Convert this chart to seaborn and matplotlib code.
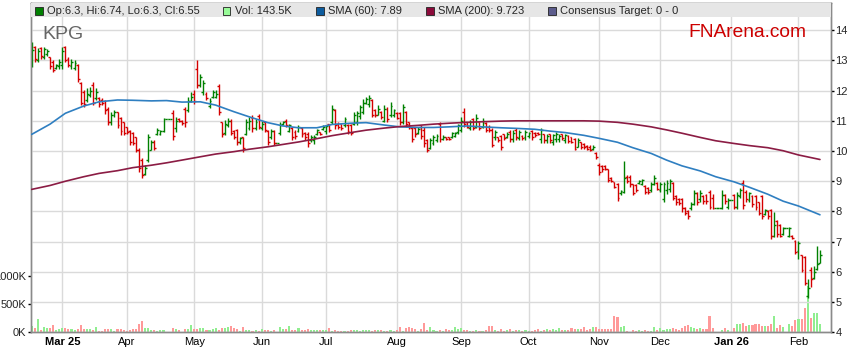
"""
KPG daily OHLC chart with volume and moving averages (FNArena style)
"""

import numpy as np
import pandas as pd
import matplotlib
matplotlib.use("Agg")
import matplotlib.pyplot as plt
from matplotlib.patches import Rectangle
import seaborn as sns


# Data

START_DATE = "2025-02-17"
TICKER = "KPG"

opens = [
    # Feb
    12.85, 13.45, 13.00, 13.40, 13.10, 13.20, 13.10, 12.95, 12.75, 12.80,
    # Mar
    12.85, 13.45, 13.05, 12.80, 12.75, 12.85, 12.25, 11.95, 11.70, 11.85, 12.20, 11.75, 11.75, 11.70, 11.65,
    11.40, 10.95, 11.20, 11.28, 11.10, 10.95,
    # Apr
    10.78, 10.65, 10.60, 10.45, 10.05, 9.70, 9.25, 9.70, 10.05, 10.30, 10.55, 10.58, 10.65, 11.05, 11.05,
    11.25, 10.75, 11.05, 11.00, 11.40, 11.35, 11.65,
    # May
    11.90, 12.70, 12.20, 11.95, 11.90, 11.50, 11.80, 11.80, 12.15, 10.95, 10.60, 10.85, 11.00, 10.65, 10.70,
    10.30, 10.45, 10.55, 10.75, 11.10, 10.75, 11.15,
    # Jun
    10.75, 10.95, 10.65, 10.45, 10.65, 10.25, 10.60, 10.88, 11.00, 10.65, 10.75, 10.62, 10.65, 10.75, 10.60,
    10.55, 10.35, 10.35, 10.55, 10.62, 10.72,
    # Jul
    10.65, 10.88, 10.95, 11.35, 10.90, 10.88, 10.85, 10.85, 10.85, 10.90, 10.95, 11.15, 11.30, 11.60, 11.55,
    11.70, 11.35, 11.20, 11.30, 11.00, 11.40, 11.20, 11.20,
    # Aug
    11.25, 11.25, 10.95, 11.30, 10.95, 10.75, 10.75, 10.60, 10.80, 10.70, 10.38, 10.10, 10.25, 10.35, 10.90,
    10.40, 10.47, 10.45, 10.45, 10.50, 10.62,
    # Sep
    10.70, 11.30, 10.95, 10.75, 11.05, 10.80, 10.95, 10.80, 10.92, 10.80, 10.70, 10.45, 10.45, 10.50, 10.55,
    10.45, 10.62, 10.40, 10.68, 10.42, 10.50, 10.45,
    # Oct
    10.50, 10.65, 10.60, 10.60, 10.40, 10.55, 10.35, 10.55, 10.30, 10.40, 10.40, 10.55, 10.35, 10.50, 10.45,
    10.40, 10.15, 10.30, 10.22, 10.18, 10.15, 10.08, 9.95,
    # Nov
    9.55, 9.50, 9.50, 9.40, 9.12, 8.97, 8.90, 8.62, 8.65, 9.15, 9.15, 8.90, 8.88, 8.94, 8.90,
    8.85, 8.78, 8.70, 8.90, 8.95,
    # Dec
    8.70, 8.40, 8.70, 8.75, 8.95, 8.50, 8.40, 8.40, 8.12, 8.00, 8.10, 8.25, 8.60, 8.40, 8.50,
    8.55, 8.65, 8.45, 8.10, 8.10, 8.10, 8.55, 8.15,
    # Jan
    8.38, 8.55, 8.15, 8.50, 8.95, 8.65, 8.38, 8.50, 8.50, 8.30, 8.50, 7.90, 8.00, 8.05, 7.20,
    7.70, 7.55, 7.25, 7.45, 7.20, 7.20, 7.02,
    # Feb
    6.68, 6.55, 6.50, 5.20, 6.05, 5.80, 6.10, 6.30,
]

highs = [
    13.60, 13.49, 13.41, 13.44, 13.44, 13.38, 13.11, 13.00, 12.89, 13.05,
    13.44, 13.49, 13.11, 13.05, 13.02, 12.89, 12.29, 12.01, 12.07, 12.12, 12.29, 12.07, 11.79, 11.74, 11.68,
    11.46, 11.30, 11.35, 11.30, 11.13, 10.97,
    10.80, 10.69, 10.64, 10.47, 10.09, 9.76, 9.54, 10.58, 10.36, 10.36, 10.75, 10.69, 11.08, 11.05, 11.05,
    11.35, 11.13, 11.08, 11.02, 11.46, 11.79, 11.96,
    12.01, 13.00, 12.56, 12.34, 11.96, 11.74, 12.01, 12.01, 12.23, 10.97, 11.02, 11.08, 11.07, 10.68, 10.74,
    10.46, 10.46, 11.07, 11.12, 11.18, 11.07, 11.23,
    11.01, 11.01, 10.68, 10.74, 10.68, 10.25, 10.96, 11.01, 11.07, 10.90, 10.79, 10.68, 10.85, 10.79, 10.63,
    10.63, 10.52, 10.52, 10.74, 10.63, 10.85,
    10.85, 10.90, 11.51, 11.40, 10.96, 10.90, 11.12, 10.90, 10.90, 11.29, 11.34, 11.51, 11.73, 11.78, 11.84,
    11.73, 11.40, 11.51, 11.34, 11.51, 11.45, 11.62, 11.40,
    11.29, 11.29, 11.56, 11.34, 10.96, 10.79, 10.79, 10.79, 10.85, 10.79, 10.41, 10.42, 10.53, 10.58, 10.97,
    10.53, 10.47, 10.47, 10.64, 10.64, 10.91,
    11.13, 11.41, 10.97, 11.02, 11.08, 11.24, 10.97, 11.08, 10.97, 10.86, 10.75, 10.69, 10.47, 10.53, 10.58,
    10.64, 10.69, 10.69, 10.75, 10.69, 10.53, 10.69,
    10.64, 10.69, 10.64, 10.64, 10.75, 10.58, 10.58, 10.58, 10.58, 10.64, 10.55, 10.58, 10.58, 10.53, 10.47,
    10.42, 10.42, 10.31, 10.25, 10.20, 10.20, 10.20, 9.97,
    9.59, 9.53, 9.53, 9.42, 9.15, 8.98, 8.93, 8.71, 9.67, 9.20, 9.20, 8.92, 8.92, 9.03, 9.09,
    8.87, 8.81, 8.98, 9.20, 8.98,
    8.98, 8.98, 9.03, 9.09, 8.98, 8.54, 8.43, 8.43, 8.15, 8.04, 8.32, 8.70, 8.65, 8.70, 8.54,
    8.59, 8.70, 8.59, 8.10, 8.10, 8.70, 8.59, 8.43,
    8.38, 8.59, 8.65, 8.76, 9.03, 8.70, 8.65, 8.54, 8.54, 8.32, 8.54, 8.09, 8.04, 8.09, 7.98,
    7.71, 7.60, 7.49, 7.45, 7.49, 7.21, 7.05,
    7.03, 6.57, 6.54, 5.78, 6.16, 6.20, 6.87, 6.74,
]

lows = [
    12.78, 12.95, 12.95, 13.05, 13.05, 13.16, 12.73, 12.62, 12.73, 12.73,
    12.73, 12.95, 12.78, 12.73, 12.67, 12.29, 11.52, 11.46, 11.63, 11.79, 11.52, 11.68, 11.46, 11.52, 11.24,
    10.86, 10.86, 11.13, 10.75, 10.53, 10.53,
    10.58, 10.20, 10.20, 9.98, 9.32, 9.10, 9.21, 9.65, 10.03, 10.03, 10.53, 10.53, 10.64, 11.05, 11.05,
    10.36, 10.64, 10.97, 10.86, 10.80, 11.30, 11.63,
    11.57, 12.07, 12.12, 11.85, 11.68, 11.41, 11.74, 11.74, 11.19, 10.47, 10.53, 10.80, 10.52, 10.41, 10.19,
    10.24, 9.97, 10.52, 10.68, 10.63, 10.68, 10.74,
    10.68, 10.63, 10.19, 10.41, 10.19, 10.25, 10.52, 10.85, 10.79, 10.63, 10.35, 10.41, 10.63, 10.46, 10.35,
    10.13, 10.30, 10.24, 10.52, 10.52, 10.68,
    10.57, 10.63, 10.90, 10.74, 10.74, 10.68, 10.79, 10.57, 10.52, 10.85, 10.85, 11.07, 11.23, 11.56, 11.45,
    11.12, 11.12, 11.18, 11.07, 10.96, 10.96, 11.12, 11.12,
    11.07, 10.85, 10.90, 10.79, 10.74, 10.30, 10.46, 10.57, 10.41, 10.13, 9.97, 10.08, 10.20, 10.31, 10.31,
    10.36, 10.36, 10.36, 10.42, 10.47, 10.58,
    10.64, 10.80, 10.75, 10.69, 10.69, 10.75, 10.69, 10.75, 10.64, 10.64, 10.14, 10.36, 10.31, 10.03, 10.36,
    10.42, 10.31, 10.31, 10.36, 10.36, 10.36, 10.36,
    10.42, 10.36, 10.47, 10.53, 10.25, 10.25, 10.25, 10.25, 10.20, 10.31, 10.31, 10.36, 10.25, 10.25, 10.25,
    10.03, 10.14, 10.08, 10.08, 10.03, 10.00, 10.03, 9.75,
    9.20, 9.31, 9.37, 8.98, 8.98, 8.76, 8.34, 8.54, 8.60, 8.93, 8.82, 8.54, 8.65, 8.92, 8.87,
    8.59, 8.59, 8.65, 8.87, 8.70,
    8.65, 8.32, 8.59, 8.65, 8.37, 8.21, 8.21, 7.98, 7.87, 7.76, 8.04, 8.21, 8.21, 8.32, 8.26,
    8.26, 8.09, 8.09, 8.10, 8.10, 8.09, 8.26, 8.09,
    8.38, 8.09, 8.09, 8.43, 8.09, 8.32, 8.32, 8.15, 8.04, 7.87, 7.76, 7.87, 7.76, 7.10, 7.16,
    7.16, 7.16, 7.21, 7.45, 7.16, 7.10, 6.60,
    6.43, 6.00, 5.56, 5.12, 5.50, 5.78, 6.05, 6.30,
]

closes = [
    13.35, 13.05, 13.30, 13.15, 13.38, 13.30, 12.80, 12.68, 12.85, 12.95,
    13.30, 13.00, 12.85, 12.95, 12.90, 12.40, 11.60, 11.55, 11.90, 12.00, 11.60, 11.95, 11.55, 11.60, 11.35,
    10.95, 11.20, 11.30, 10.85, 10.65, 10.60,
    10.62, 10.30, 10.25, 10.05, 9.45, 9.20, 9.45, 10.45, 10.30, 10.10, 10.70, 10.65, 11.05, 11.05, 11.05,
    10.50, 11.00, 11.00, 10.92, 10.95, 11.65, 11.80,
    11.65, 12.20, 12.45, 12.25, 11.75, 11.65, 11.95, 11.90, 11.30, 10.55, 10.90, 11.00, 10.60, 10.45, 10.30,
    10.42, 10.10, 10.95, 11.00, 10.75, 10.95, 10.80,
    10.90, 10.70, 10.30, 10.65, 10.25, 10.25, 10.85, 10.95, 10.85, 10.85, 10.45, 10.50, 10.80, 10.55, 10.45,
    10.25, 10.48, 10.45, 10.70, 10.55, 10.80,
    10.82, 10.70, 11.40, 10.85, 10.80, 10.75, 11.05, 10.65, 10.60, 11.20, 11.25, 11.45, 11.60, 11.72, 11.75,
    11.20, 11.18, 11.40, 11.12, 11.40, 11.05, 11.50, 11.35,
    11.10, 10.95, 11.45, 10.90, 10.80, 10.40, 10.55, 10.72, 10.50, 10.25, 10.05, 10.35, 10.45, 10.50, 10.40,
    10.48, 10.40, 10.40, 10.60, 10.60, 10.85,
    11.00, 10.88, 10.80, 10.95, 10.75, 11.10, 10.75, 11.00, 10.70, 10.68, 10.20, 10.62, 10.35, 10.15, 10.42,
    10.58, 10.40, 10.60, 10.45, 10.62, 10.42, 10.62,
    10.60, 10.45, 10.52, 10.55, 10.70, 10.35, 10.50, 10.35, 10.52, 10.55, 10.50, 10.42, 10.52, 10.32, 10.30,
    10.08, 10.35, 10.15, 10.12, 10.08, 10.05, 10.15, 9.80,
    9.30, 9.40, 9.40, 9.05, 9.02, 8.82, 8.45, 8.68, 9.10, 9.00, 8.90, 8.60, 8.70, 9.00, 9.05,
    8.65, 8.65, 8.92, 9.10, 8.75,
    8.92, 8.90, 8.95, 9.00, 8.45, 8.30, 8.28, 8.10, 7.95, 7.85, 8.25, 8.60, 8.30, 8.60, 8.35,
    8.35, 8.15, 8.10, 8.10, 8.10, 8.55, 8.35, 8.38,
    8.38, 8.15, 8.55, 8.70, 8.20, 8.40, 8.60, 8.25, 8.15, 7.95, 7.85, 8.05, 7.85, 7.20, 7.55,
    7.25, 7.20, 7.45, 7.45, 7.45, 7.12, 6.65,
    6.95, 6.05, 5.62, 5.45, 5.75, 6.00, 6.25, 6.55,
]

# daily volume, thousands of shares
volume_k = [
    112, 82, 230, 47, 94, 82, 82, 130, 35, 59,
    82, 82, 65, 59, 47, 65, 130, 59, 53, 59, 47, 94, 30, 24, 65, 65, 65, 30, 65, 65, 47,
    24, 47, 65, 59, 147, 206, 82, 82, 47, 47, 30, 47, 47, 0, 0, 82, 59, 47, 0, 59, 59,
    130, 59, 59, 82, 82, 47, 47, 59, 82, 47, 82, 82, 94, 112, 82, 59, 30, 94, 47, 47,
    30, 47, 30, 65, 47, 47, 30, 47, 0, 94, 65, 65, 112, 47, 47, 82, 45, 40, 50, 45, 35, 45,
    40, 45, 40, 75, 30, 35, 30, 25, 30, 30, 35, 45, 40, 30, 35, 40, 45, 30, 35, 45, 40, 30, 30, 35, 30, 35,
    97, 28, 74, 85, 74, 51, 28, 51, 160, 45, 97, 40, 28, 45, 28, 57, 40, 45, 85, 51,
    74, 40, 40, 28, 28, 40, 28, 28, 40, 114, 114, 40, 28, 57, 28, 45, 57, 28, 40, 40,
    28, 40, 28, 17, 45, 57, 28, 40, 57, 45, 57, 45, 74, 45, 45, 45, 68, 57, 57, 57,
    85, 40, 57, 85, 97, 57,
    56, 56, 67, 56, 280, 263, 95, 112, 28, 11, 45, 28, 40, 28, 40, 28, 28, 95, 40, 84,
    45, 56, 56, 84, 56, 40, 73, 112, 123, 95, 84, 67, 84, 67, 56, 280, 73, 0, 0, 45, 73, 45,
    0, 84, 140, 140, 168, 112, 123, 134, 151, 151, 112, 112, 112, 140, 291, 84, 123, 100, 0,
    151, 112, 224, 235, 240, 431, 820, 252, 336, 336, 143.5,
]

# moving averages, sampled along the trading-day axis
sma_days = [0, 6, 11, 17, 22, 28, 33, 39, 44, 49, 55, 60, 66, 71, 77, 82, 87, 93, 98, 104, 109, 115,
            120, 126, 131, 136, 142, 147, 153, 158, 164, 169, 174, 180, 185, 191, 196, 202, 207, 212,
            218, 223, 229, 234, 240, 245, 250, 257]
sma60 = [10.55, 10.89, 11.25, 11.49, 11.63, 11.69, 11.68, 11.66, 11.67, 11.62, 11.63, 11.52, 11.30,
         11.13, 10.94, 10.83, 10.77, 10.77, 10.88, 10.92, 10.94, 10.86, 10.80, 10.78, 10.78, 10.80,
         10.83, 10.80, 10.77, 10.75, 10.72, 10.66, 10.61, 10.52, 10.42, 10.29, 10.11, 9.92, 9.70,
         9.51, 9.34, 9.15, 8.98, 8.80, 8.57, 8.34, 8.18, 7.89]
sma200 = [8.73, 8.86, 9.00, 9.15, 9.26, 9.35, 9.45, 9.53, 9.61, 9.70, 9.81, 9.90, 9.98, 10.06,
          10.14, 10.22, 10.30, 10.41, 10.51, 10.61, 10.69, 10.76, 10.81, 10.85, 10.89, 10.92, 10.95,
          10.97, 10.99, 11.00, 11.00, 11.00, 11.00, 11.00, 10.99, 10.95, 10.89, 10.80, 10.70, 10.59,
          10.45, 10.34, 10.25, 10.18, 10.11, 10.01, 9.87, 9.72]

legend_labels = [
    "Op:6.3, Hi:6.74, Lo:6.3, Cl:6.55",
    "Vol: 143.5K",
    "SMA (60): 7.89",
    "SMA (200): 9.723",
    "Consensus Target: 0 - 0",
]

price_ticks = [4, 5, 6, 7, 8, 9, 10, 11, 12, 13, 14]
volume_ticks = [0, 500_000, 1_000_000]
volume_tick_labels = ["0K", "500K", "1000K"]


# Style

UP = "#008000"
DOWN = "#d40000"
VOL_COLORS = {"up": "#90ee90", "down": "#ff9999", "flat": "#888888"}
SMA60_COLOR = "#2f7fc1"
SMA200_COLOR = "#8b1c44"
GRID = "#dadada"
SPINE = "#8a8a8a"
LEGEND_SWATCH = ["#007f00", "#98fb98", "#0d5c9e", "#8b0a3a", "#5c5c8c"]

W_PX, H_PX = 859, 363


def fx(px):
    return px / W_PX


def fy(py):
    return 1 - py / H_PX


def main():
    sns.set_style("white")
    plt.rcParams["font.family"] = ["Liberation Sans", "DejaVu Sans"]

    o = np.array(opens)
    h = np.array(highs)
    lo = np.array(lows)
    c = np.array(closes)
    days = np.arange(len(c))
    dates = pd.bdate_range(START_DATE, periods=len(c))

    fig = plt.figure(figsize=(W_PX / 100, H_PX / 100), dpi=100)
    left, right, top, bottom = 30.7, 831, 3, 332.3
    ax_vol = fig.add_axes([fx(left), fy(bottom), (right - left) / W_PX, (bottom - top) / H_PX])
    ax = ax_vol.twinx()

    # Volume (left axis)
    move = np.where(c > o, "up", np.where(c < o, "down", "flat"))
    vol_df = pd.DataFrame({"day": days, "volume": np.array(volume_k) * 1000, "move": move})
    sns.barplot(data=vol_df, x="day", y="volume", hue="move", palette=VOL_COLORS,
                native_scale=True, dodge=False, width=0.68, saturation=1,
                errorbar=None, legend=False, linewidth=0, ax=ax_vol)
    ax_vol.set_ylim(0, 5.81e6)
    ax_vol.set_yticks(volume_ticks)
    ax_vol.set_yticklabels(volume_tick_labels)

    # Price bars (right axis)
    colors = np.where(c >= o, UP, DOWN)
    tick = 0.62
    ax.vlines(days, lo, h, colors=colors, lw=1.0, zorder=2)
    ax.hlines(o, days - tick, days, colors=colors, lw=1.0, zorder=2)
    ax.hlines(c, days, days + tick, colors=colors, lw=1.0, zorder=2)

    sns.lineplot(x=sma_days, y=sma60, ax=ax, color=SMA60_COLOR, lw=1.2, zorder=3)
    sns.lineplot(x=sma_days, y=sma200, ax=ax, color=SMA200_COLOR, lw=1.2, zorder=3)

    ax.set_ylim(4.0, 14.90)
    ax.set_yticks(price_ticks)
    ax.set_yticklabels([str(t) for t in price_ticks])
    ax.set_xlim(-0.3, 260.6)

    # Month ticks
    starts = [i for i in range(1, len(dates)) if dates[i].month != dates[i - 1].month]
    labels = []
    for k, i in enumerate(starts):
        d = dates[i]
        labels.append(d.strftime("%b %y") if (k == 0 or d.month == 1) else d.strftime("%b"))
    ax_vol.set_xticks(starts)
    ax_vol.set_xticklabels(labels)
    for lab in ax_vol.get_xticklabels():
        if " " in lab.get_text():
            lab.set_fontweight("bold")

    # Grid, spines, ticks
    ax_vol.grid(True, axis="x", color=GRID, lw=1)
    ax.grid(True, axis="y", color=GRID, lw=1)
    ax.set_axisbelow(True)
    ax_vol.set_axisbelow(True)
    for a in (ax, ax_vol):
        for s in a.spines.values():
            s.set_color(SPINE)
            s.set_linewidth(1)
        a.set_xlabel("")
        a.set_ylabel("")
    ax_vol.tick_params(axis="x", length=0, pad=3.5, labelsize=8, colors="black")
    ax_vol.tick_params(axis="y", left=True, length=2.5, width=1, color="black", pad=0.8, labelsize=8)
    ax.tick_params(axis="y", right=True, length=2.5, width=1, color="black", pad=0.8, labelsize=8)

    # Legend band on top of the plot
    band_y0 = (bottom - 17) / (bottom - top)
    ax.add_patch(Rectangle((0, band_y0), 1, 1 - band_y0, transform=ax.transAxes,
                           facecolor="#e6e6e6", edgecolor="none", zorder=5))
    swatch_x = [35, 223, 316, 426, 548]
    for x0, col, text in zip(swatch_x, LEGEND_SWATCH, legend_labels):
        fig.add_artist(Rectangle((fx(x0), fy(14.5)), 7.5 / W_PX, 7.5 / H_PX,
                                 transform=fig.transFigure, facecolor=col,
                                 edgecolor="#222222", lw=0.6, zorder=6))
        fig.text(fx(x0 + 12), fy(10.5), text, fontsize=8, va="center", ha="left", zorder=7)

    fig.text(fx(42), fy(39.3), TICKER, fontsize=14, color="#666666", va="baseline", ha="left")
    fig.text(fx(688), fy(36.7), "FNArena.com", fontsize=13.8, color="#cc0000",
             va="baseline", ha="left")

    fig.savefig("out.png", dpi=100, facecolor="white")
    plt.close(fig)


if __name__ == "__main__":
    main()
